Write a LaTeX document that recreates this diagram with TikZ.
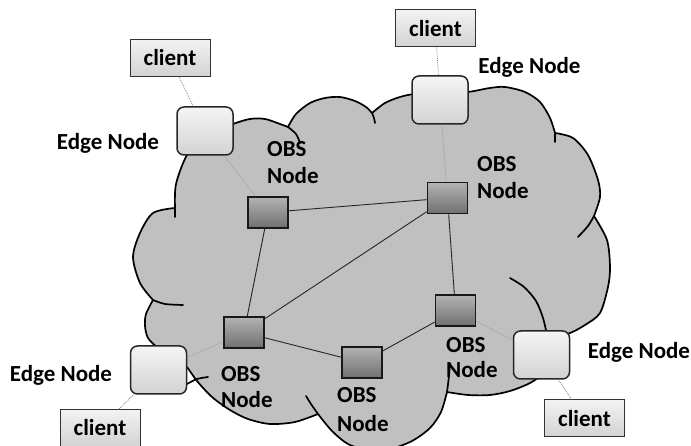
\documentclass[tikz,border=0pt]{standalone}
\usepackage{fontspec}
\setmainfont{Carlito}
\definecolor{cloudgray}{RGB}{192,192,192}
\definecolor{obsgray}{RGB}{112,112,112}
\begin{document}
\begin{tikzpicture}[x=1pt,y=1pt,
  every node/.style={font=\fontsize{23}{27}\selectfont\bfseries},
  cloudline/.style={draw=black, line width=1.7pt, line join=round},
  tailline/.style={draw=black, line width=1.7pt, line cap=round},
  edgebox/.style={draw=black!85, line width=1.5pt, rounded corners=7pt, minimum width=56pt, minimum height=48pt, top color=gray!8, bottom color=gray!35, inner sep=0pt},
  obsbox/.style={draw=black!90, line width=1.7pt, minimum width=40pt, minimum height=31pt, top color=gray!60, bottom color=obsgray, inner sep=0pt},
  clientbox/.style={draw=black!80, line width=1pt, minimum width=80pt, minimum height=37pt, top color=gray!10, bottom color=gray!35, inner sep=0pt},
  lbl/.style={inner sep=0pt},
  dotlink/.style={draw=gray, densely dotted, line width=0.8pt},
  edgelink/.style={draw=gray!65, line width=0.7pt},
  obslink/.style={draw=black!85, line width=0.9pt}
]
\useasboundingbox (0,0) rectangle (691,446);
\clip (0,0) rectangle (691,446);
% cloud
\path[fill=cloudgray, cloudline]
  plot[smooth] coordinates {(175,238) (176,262) (187,291) (205,311) (233,322) (250,327) (265,327) (280,322) (288,319)}
  -- plot[smooth] coordinates {(288,319) (296,332) (310,343) (325,348) (340,349) (355,345) (366,339) (372,333)}
  -- plot[smooth] coordinates {(372,333) (385,343) (400,349) (415,352) (440,352)}
  -- plot[smooth] coordinates {(440,352) (468,354) (490,358) (505,359) (525,354) (540,344) (550,328) (555,313)}
  -- plot[smooth] coordinates {(555,313) (573,308) (588,291) (598,266) (600,249) (594,230)}
  -- plot[smooth] coordinates {(594,230) (607,206) (610,179) (608,159) (600,133) (585,121) (570,113) (548,106)}
  -- plot[smooth] coordinates {(548,106) (549,88) (545,74) (530,63) (510,55) (490,51) (468,51) (447,54)}
  -- plot[smooth] coordinates {(447,54) (441,34) (430,18) (412,5) (390,-3) (368,-4) (348,2) (332,15) (318,32)}
  -- plot[smooth] coordinates {(318,32) (295,24) (270,22) (248,27) (230,36) (212,49) (197,65) (185,81) (170,90)}
  -- plot[smooth] coordinates {(170,90) (158,98) (148,108) (145,120) (146,132) (153,146)}
  -- plot[smooth] coordinates {(153,146) (140,163) (133,189) (140,213) (153,233) (175,238)}
  -- cycle;
% inner tails
\draw[tailline] plot[smooth] coordinates {(288,319) (296,312) (300,303)};
\draw[tailline] plot[smooth] coordinates {(372,333) (374,328) (375,323)};
\draw[tailline] plot[smooth] coordinates {(555,313) (555,304)};
\draw[tailline] plot[smooth] coordinates {(594,230) (588,220) (578,209)};
\draw[tailline] plot[smooth] coordinates {(547,111) (543,128) (536,145) (524,159) (510,168)};
\draw[tailline] plot[smooth] coordinates {(447,54) (449,70) (450,83)};
\draw[tailline] plot[smooth] coordinates {(318,32) (311,42) (306,50)};
\draw[tailline] plot[smooth] coordinates {(187,62) (197,67) (208,69)};
\draw[tailline] plot[smooth] coordinates {(153,146) (165,142) (183,141)};
\draw[tailline] plot[smooth] coordinates {(175,238) (175,229)};
% clients
\node[clientbox] (cTL) at (170,388) {client};
\node[clientbox] (cTR) at (435.5,417.5) {client};
\node[clientbox] (cBL) at (100,18) {client};
\node[clientbox] (cBR) at (584.5,27.5) {client};
% edge nodes
\node[edgebox] (eTL) at (205,315) {};
\node[edgebox] (eTR) at (440,346) {};
\node[edgebox] (eBL) at (158.5,76) {};
\node[edgebox] (eBR) at (541.5,91) {};
% OBS nodes
\node[obsbox] (o1) at (268,233.5) {};
\node[obsbox] (o2) at (447.5,248) {};
\node[obsbox] (o3) at (244,113.5) {};
\node[obsbox] (o4) at (362,83.5) {};
\node[obsbox] (o5) at (455.5,135.5) {};
% labels
\node[lbl, anchor=base] (lTL) at (108,296) {Edge Node};
\node[lbl, anchor=base] (lTR) at (529.5,372) {Edge Node};
\node[lbl, anchor=base] (lBL) at (61,64) {Edge Node};
\node[lbl, anchor=base] (lBR) at (639,87) {Edge Node};
\node[lbl, anchor=base west] (o1a) at (267,289) {OBS};
\node[lbl, anchor=base west] (o1b) at (267,262) {Node};
\node[lbl, anchor=base west] (o2a) at (477,274) {OBS};
\node[lbl, anchor=base west] (o2b) at (477,247) {Node};
\node[lbl, anchor=base west] (o3a) at (221,64) {OBS};
\node[lbl, anchor=base west] (o3b) at (221,38) {Node};
\node[lbl, anchor=base west] (o4a) at (337,43) {OBS};
\node[lbl, anchor=base west] (o4b) at (337,14) {Node};
\node[lbl, anchor=base west] (o5a) at (446,93) {OBS};
\node[lbl, anchor=base west] (o5b) at (446,68) {Node};
% connectors
\draw[dotlink] (cTL) -- (eTL);
\draw[dotlink] (cTR) -- (eTR);
\draw[dotlink] (cBL) -- (eBL);
\draw[dotlink] (cBR) -- (eBR);
\draw[edgelink] (eTL) -- (o1);
\draw[edgelink] (eTR) -- (o2);
\draw[edgelink] (eBL) -- (o3);
\draw[edgelink] (eBR) -- (o5);
\draw[obslink] (o1) -- (o2);
\draw[obslink] (o1) -- (o3);
\draw[obslink] (o2) -- (o3);
\draw[obslink] (o2) -- (o5);
\draw[obslink] (o3) -- (o4);
\draw[obslink] (o4) -- (o5);
\end{tikzpicture}
\end{document}
